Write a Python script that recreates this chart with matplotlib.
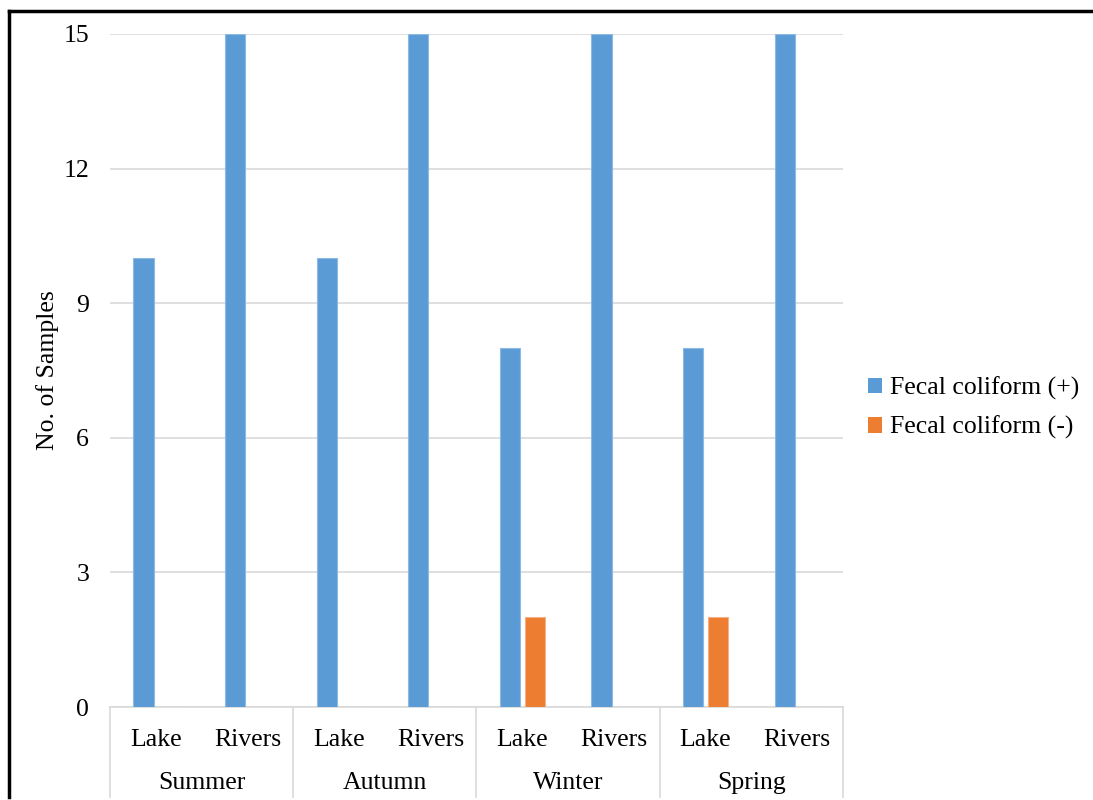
import matplotlib
matplotlib.use("Agg")
import matplotlib.pyplot as plt
from matplotlib.lines import Line2D
from matplotlib.transforms import blended_transform_factory
import numpy as np

plt.rcParams['font.family'] = ['Liberation Serif', 'DejaVu Serif']

seasons = ["Summer", "Autumn", "Winter", "Spring"]
sites = ["Lake", "Rivers"]
positive = [10, 15, 10, 15, 8, 15, 8, 15]
negative = [0, 0, 0, 0, 2, 0, 2, 0]
series_names = ["Fecal coliform (+)", "Fecal coliform (-)"]
y_ticks = [0, 3, 6, 9, 12, 15]

blue = "#5B9BD5"
orange = "#ED7D31"
grid_c = "#D9D9D9"
fs = 18.5

W, H = 1093, 800
fig = plt.figure(figsize=(W / 100, H / 100), dpi=100)
ax = fig.add_axes([110 / W, 1 - 707 / H, (843 - 110) / W, (707 - 34) / H])

x = np.arange(len(positive)) + 0.5
bw = 0.22
off = 0.135
ax.bar(x - off, positive, bw, color=blue, edgecolor="#8DB9E3", linewidth=0.8,
       label=series_names[0], zorder=3)
ax.bar(x + off, negative, bw, color=orange, edgecolor="#F5B08A",
       linewidth=0.8, label=series_names[1], zorder=3)

ax.set_xlim(0, len(positive))
ax.set_ylim(0, 15)
ax.set_yticks(y_ticks)
ax.set_yticklabels([str(v) for v in y_ticks], fontsize=fs)
ax.tick_params(axis='y', length=0, pad=15)
ax.grid(axis='y', color=grid_c, linewidth=1.2, zorder=0)
for s in ["top", "right", "left"]:
    ax.spines[s].set_visible(False)
ax.spines["bottom"].set_color(grid_c)
ax.spines["bottom"].set_linewidth(1.2)

ax.set_xticks(x)
ax.set_xticklabels(sites * len(seasons), fontsize=fs)
ax.tick_params(axis='x', length=0, pad=16)

ax.set_ylabel("No. of Samples", fontsize=fs)
ax.yaxis.set_label_coords(-0.07, 0.5)

# Season labels and group separators beneath the axis
tr = blended_transform_factory(ax.transData, ax.transAxes)
ax_h = 707 - 34
for i, name in enumerate(seasons):
    ax.text(2 * i + 1, -(783 - 707) / ax_h, name, transform=tr, ha="center",
            va="center", fontsize=fs)
for b in range(len(seasons) + 1):
    ax.add_line(Line2D([2 * b, 2 * b], [0, -(797 - 707) / ax_h], transform=tr,
                       color=grid_c, linewidth=1.2, clip_on=False))

leg = fig.legend(loc="center left", bbox_to_anchor=(845 / W, 1 - 408 / H),
                 frameon=False, fontsize=fs, handlelength=0.55,
                 handleheight=0.55, handletextpad=0.3, labelspacing=0.62)
for h in leg.legend_handles:
    h.set_edgecolor("none")

# Outer frame (top and left edges)
fig.add_artist(Line2D([9 / W, 1.0], [1 - 11 / H, 1 - 11 / H], transform=fig.transFigure,
                      color="black", linewidth=2.5))
fig.add_artist(Line2D([9 / W, 9 / W], [1 - 11 / H, 1 - 797 / H], transform=fig.transFigure,
                      color="black", linewidth=2.5))

fig.savefig("out.png", dpi=100)
